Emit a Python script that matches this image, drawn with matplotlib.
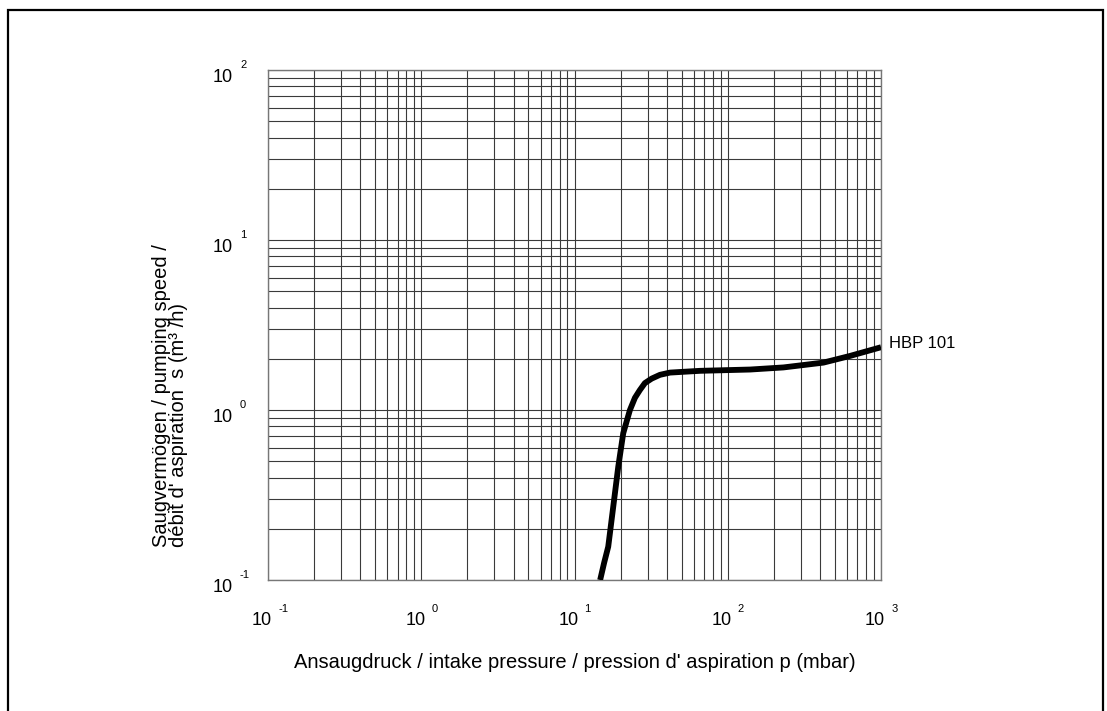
import matplotlib
matplotlib.use('Agg')
import matplotlib.pyplot as plt
from matplotlib.patches import Rectangle
from matplotlib.ticker import LogLocator, NullFormatter

plt.rcParams['font.family'] = ['Liberation Sans', 'DejaVu Sans']

# ---- data ----
pressure = [14.7, 15.6, 16.6, 17.9, 19.3, 20.8, 23.0, 24.8, 26.7, 28.8, 31.9, 36.1,
            42.0, 66.0, 140.0, 231.0, 421.0, 628.0, 1000.0]
speed = [0.10, 0.126, 0.157, 0.27, 0.464, 0.73, 1.0, 1.18, 1.31, 1.44, 1.53, 1.61,
         1.66, 1.70, 1.73, 1.78, 1.90, 2.08, 2.34]
curve_label = "HBP 101"
x_exponents = [-1, 0, 1, 2, 3]
y_exponents = [-1, 0, 1, 2]
xlabel = "Ansaugdruck / intake pressure / pression d' aspiration p (mbar)"
ylabel = "Saugvermögen / pumping speed /\ndébit d' aspiration  s (m³ /h)"

W, H = 1107, 711
fig = plt.figure(figsize=(W / 100, H / 100), dpi=100)
ax = fig.add_axes([268 / W, 131 / H, 613 / W, 510 / H])
ax.set_xscale('log')
ax.set_yscale('log')
ax.set_xlim(10.0 ** x_exponents[0], 10.0 ** x_exponents[-1])
ax.set_ylim(10.0 ** y_exponents[0], 10.0 ** y_exponents[-1])
for axis in (ax.xaxis, ax.yaxis):
    axis.set_major_locator(LogLocator(base=10, numticks=20))
    axis.set_minor_locator(LogLocator(base=10, subs=range(2, 10), numticks=200))
    axis.set_minor_formatter(NullFormatter())
ax.grid(True, which='both', color='#3a3a3a', lw=0.8)
ax.tick_params(which='both', length=0, labelbottom=False, labelleft=False)
for s in ax.spines.values():
    s.set_color('#777777')
    s.set_linewidth(1.0)

ax.plot(pressure, speed, color='black', lw=4.2, solid_capstyle='butt',
        solid_joinstyle='round', zorder=5)
ax.annotate(curve_label, xy=(pressure[-1], speed[-1]), xytext=(8, 4),
            textcoords='offset pixels', fontsize=12, va='center', ha='left',
            annotation_clip=False)

# tick labels "10" with superscript exponent
for e in x_exponents:
    t = ax.annotate("10", xy=(10.0 ** e, 0), xycoords=('data', 'axes fraction'),
                    xytext=(-6, -45), textcoords='offset pixels', fontsize=13,
                    ha='center', va='baseline', annotation_clip=False)
    ax.annotate(str(e), xy=(1, 1), xycoords=t, xytext=(6, 8),
                textcoords='offset pixels', fontsize=8, ha='left', va='top',
                annotation_clip=False)
for e in y_exponents:
    t = ax.annotate("10", xy=(0, 10.0 ** e), xycoords=('axes fraction', 'data'),
                    xytext=(-35, -7), textcoords='offset pixels', fontsize=13,
                    ha='right', va='center', annotation_clip=False)
    ax.annotate(str(e), xy=(1, 1), xycoords=t, xytext=(7, 8),
                textcoords='offset pixels', fontsize=8, ha='left', va='top',
                annotation_clip=False)

fig.text(575 / W, 1 - 668 / H, xlabel, fontsize=14.5, ha='center', va='baseline')
fig.text(170 / W, 1 - 547 / H, ylabel, fontsize=14.5, ha='center', va='bottom',
         rotation=90, multialignment='left', linespacing=0.9)

# outer frame (bottom edge cut off)
fig.patches.append(Rectangle((8 / W, -0.05), (1103 - 8) / W, 1.05 - 10 / H,
                             transform=fig.transFigure, fill=False,
                             edgecolor='black', lw=1.6, zorder=10))

fig.savefig('out.png', dpi=100)
